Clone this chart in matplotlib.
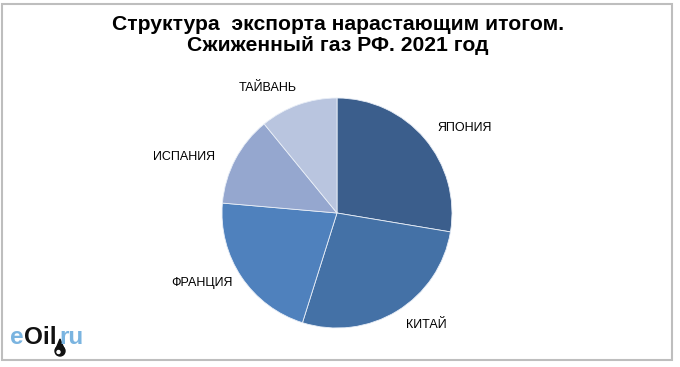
import matplotlib.pyplot as plt
from matplotlib.patches import Rectangle, Circle, Polygon
from matplotlib.transforms import IdentityTransform

plt.rcParams['font.family'] = ['Liberation Sans', 'DejaVu Sans']

countries = ['ЯПОНИЯ', 'КИТАЙ', 'ФРАНЦИЯ', 'ИСПАНИЯ', 'ТАЙВАНЬ']
shares = [27.6, 27.2, 21.5, 12.7, 10.9]
colors = ['#3b5e8c', '#4471a6', '#4f81bd', '#95a7cf', '#b9c5df']
# label positions in pixels (centre of text) of the reference
label_px = [(465, 128), (426, 325), (202, 283), (184, 157), (268, 88)]

W, H = 680, 367
cx, cy, r = 337, 213, 115

fig = plt.figure(figsize=(W / 100, H / 100), dpi=100)
fig.patches.append(Rectangle((2 / W, 7 / H), 670 / W, 356 / H, transform=fig.transFigure,
                             fill=False, edgecolor='#bebebe', linewidth=1.5))

fig.text(338 / W, 1 - 35 / H, 'Структура  экспорта нарастающим итогом.\nСжиженный газ РФ. 2021 год',
         ha='center', va='center', fontsize=15.2, fontweight='bold', linespacing=1.12)

ax = fig.add_axes([(cx - r) / W, (H - cy - r) / H, 2 * r / W, 2 * r / H])
ax.pie(shares, colors=colors, startangle=90, counterclock=False, radius=1,
       wedgeprops=dict(edgecolor='#e8eef7', linewidth=0.6))
ax.set_xlim(-1, 1)
ax.set_ylim(-1, 1)
ax.axis('off')

for name, (px, py) in zip(countries, label_px):
    ax.text((px - cx) / r, (cy - py) / r, name, ha='center', va='center', fontsize=9)

# logo
renderer = fig.canvas.get_renderer()
x = 10
for part, col in [('e', '#7ab4e0'), ('Oil', '#111111'), ('ru', '#7ab4e0')]:
    t = fig.text(x / W, 1 - 337 / H, part, color=col, fontsize=17.5, fontweight='bold',
                 ha='left', va='center')
    x += t.get_window_extent(renderer).width + (3 if part == 'Oil' else 0)
idt = IdentityTransform()
fig.add_artist(Polygon([(60, H - 339), (55.5, H - 350), (64.5, H - 350)], closed=True,
                       transform=idt, color='#111111'))
fig.add_artist(Circle((60, H - 351), 5, transform=idt, color='#111111'))
fig.add_artist(Circle((58.5, H - 352), 1.5, transform=idt, color='white'))

fig.savefig('out.png', dpi=100)
